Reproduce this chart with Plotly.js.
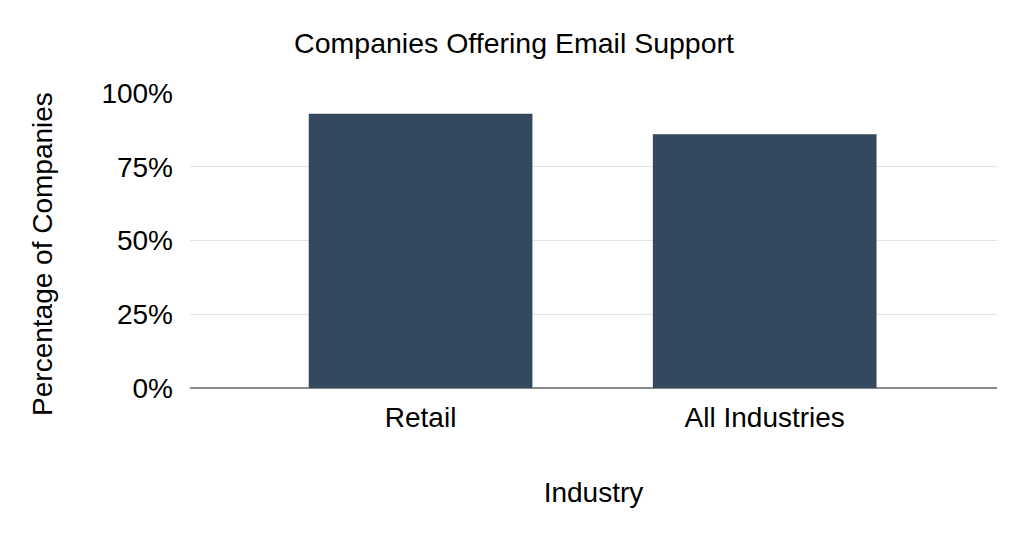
<!DOCTYPE html>
<html>
<head>
<meta charset="utf-8">
<script src="https://cdn.plot.ly/plotly-3.0.1.min.js"></script>
<style>
  html, body { margin: 0; padding: 0; background: #ffffff; }
  #chart { width: 1024px; height: 537px; }
</style>
</head>
<body>
<div id="chart"></div>
<script>
// share of companies offering email support, by industry (%)
const industries = ["Retail", "All Industries"];
const emailSupport = [93, 86];
const yTicks = [0, 25, 50, 75, 100];
const yTickLabels = ["0%", "25%", "50%", "75%", "100%"];

const INK = "#000000";
const BAR = "#34495e";
const GRID = "#e3e3e3";
const BASELINE = "#8a8a8a";
const FONT = 'Arial, "Liberation Sans", sans-serif';

const traces = [{
  type: "bar",
  x: industries,
  y: emailSupport,
  marker: { color: BAR },
  width: 0.65,
  hoverinfo: "x+y",
}];

const layout = {
  width: 1024,
  height: 537,
  paper_bgcolor: "#ffffff",
  plot_bgcolor: "#ffffff",
  font: { family: FONT, color: INK, size: 28 },
  margin: { l: 190, r: 27, t: 93, b: 149 },
  showlegend: false,
  title: {
    text: "Companies Offering Email Support",
    font: { size: 28.5, color: INK },
    x: 0.502, xanchor: "center",
    y: 0.92, yanchor: "middle",
  },
  xaxis: {
    type: "category",
    range: [-0.67, 1.675],
    showgrid: false,
    showline: false,
    zeroline: false,
    ticks: "",
    tickfont: { size: 28, color: INK },
    ticklabelstandoff: 10,
    title: { text: "Industry", font: { size: 28, color: INK }, standoff: 50 },
  },
  yaxis: {
    range: [0, 100],
    tickvals: yTicks,
    ticktext: yTickLabels,
    gridcolor: GRID,
    gridwidth: 1,
    zeroline: true,
    zerolinecolor: BASELINE,
    zerolinewidth: 1.3,
    showline: false,
    ticks: "",
    tickfont: { size: 28, color: INK },
    ticklabelstandoff: 16,
  },
  // y title sits a little below the plot's middle in the original, so it is placed by hand
  annotations: [{
    text: "Percentage of Companies",
    xref: "paper", yref: "paper",
    x: -0.182, xanchor: "center",
    y: 0.455, yanchor: "middle",
    textangle: -90,
    showarrow: false,
    font: { size: 28, color: INK },
  }],
};

Plotly.newPlot("chart", traces, layout, { displayModeBar: false, staticPlot: true });
</script>
</body>
</html>
